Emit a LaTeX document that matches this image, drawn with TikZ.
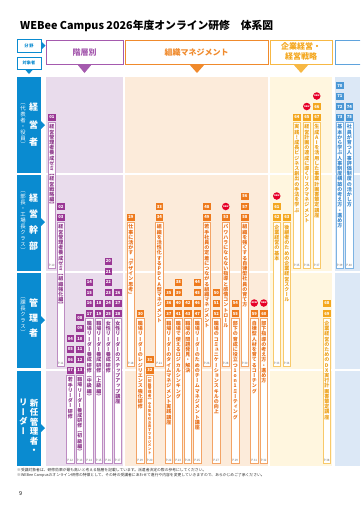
\documentclass[tikz,border=0pt]{standalone}
\usepackage{fontspec}
\setmainfont{Noto Sans CJK JP}
\newfontfamily\tatefont[RawFeature=+vert]{Noto Sans CJK JP}
\usetikzlibrary{positioning}

\definecolor{tabblue}{HTML}{0A8BD0}
\definecolor{bluebg}{HTML}{DCE8F6}
\definecolor{blueline}{HTML}{5FA3DD}
\definecolor{bluebar}{HTML}{7DB3E3}
\definecolor{bluebadge}{HTML}{4A97D5}
\definecolor{bluetext}{HTML}{3C89CD}
\definecolor{purpleline}{HTML}{A55AAE}
\definecolor{purplebg}{HTML}{E9DCEC}
\definecolor{purplebadge}{HTML}{9A3795}
\definecolor{purplebar}{HTML}{BD8CC2}
\definecolor{purpletext}{HTML}{8E3A8C}
\definecolor{orangeline}{HTML}{F08A2C}
\definecolor{orangebg}{HTML}{FCEBDA}
\definecolor{orangebadge}{HTML}{EE7A1C}
\definecolor{orangebar}{HTML}{F3A466}
\definecolor{orangetext}{HTML}{E8701A}
\definecolor{goldline}{HTML}{F7B844}
\definecolor{goldbg}{HTML}{FFF6DF}
\definecolor{goldbadge}{HTML}{F4A71E}
\definecolor{goldbar}{HTML}{F8C96A}
\definecolor{goldtext}{HTML}{EDA21C}
\definecolor{newred}{HTML}{E60028}

% vertical (tategaki) stack of characters
\makeatletter
\newcommand\tate[2][1.04em]{\vbox{\baselineskip=#1\relax\lineskiplimit=-\maxdimen\lineskip=0pt
  \@tfor\tate@c:=#2\do{\hbox to 1em{\hss\tate@c\hss}}}}
\makeatother

\tikzset{
  badge/.style={anchor=north west, minimum width=7.5pt, minimum height=7pt, inner sep=0pt,
    text=white, font=\fontsize{4.2}{4.2}\selectfont\bfseries},
  newdot/.style={circle, fill=newred, minimum size=7.5pt, inner sep=0pt, text=white,
    font=\fontsize{2.3}{2.3}\selectfont\bfseries},
  pagetag/.style={anchor=south, inner sep=0.3pt, text=black!55, font=\fontsize{3}{3}\selectfont},
  tabtext/.style={text=tabblue, inner sep=0pt, font=\fontsize{4.2}{4.2}\selectfont\bfseries},
  headtext/.style={inner sep=0pt, align=center, font=\fontsize{8}{9.5}\selectfont\bfseries},
  rowbig/.style={text=white, inner sep=0pt, font=\tatefont\fontsize{9}{9}\selectfont\bfseries},
  rowsmall/.style={text=white, inner sep=0pt, font=\tatefont\fontsize{5.4}{5.4}\selectfont},
  note/.style={inner sep=0pt, text=black!80, font=\fontsize{3.8}{4}\selectfont},
}

% x, first y, colour family, numbers
\newcommand\badges[4]{\foreach \n [count=\i from 0] in {#4}
  {\node[badge, fill=#3badge] (b\n) at (#1,#2+\i*10.5) {\n};}}
% name, x, y
\newcommand\newmark[3]{\node[newdot] (#1) at (#2+3.75,#3+3.5) {NEW};}
% [size] name, x, top, bottom, colour family, title, page
\newcommand\course[8][5]{
  \draw[#6bar, fill=white, line width=0.6pt] (#3,#4) rectangle (#3+7.5,#5);
  \node[anchor=north, inner sep=0pt, text=#6text, font=\tatefont\fontsize{#1}{#1}\selectfont\bfseries]
    (#2) at (#3+3.75,#4+2.5) {\tate[\dimexpr#1pt+0.2pt\relax]{#7}};
  \node[pagetag] (#2p) at (#3+3.75,#5-1.2) {#8};
}

\begin{document}
\begin{tikzpicture}[x=1pt, y=-1pt]
  \useasboundingbox (0,0) rectangle (360,509);
  \clip (0,0) rectangle (360,509);

  % title
  \node[anchor=base west, inner sep=0pt, font=\fontsize{10.8}{10.8}\selectfont\bfseries] (title) at (20,29.5)
    {WEBee Campus 2026年度オンライン研修　体系図};

  % field and target tabs
  \draw[tabblue, fill=white, line width=0.6pt] (17,39) rectangle (41,52);
  \node[tabtext] (fieldtab) at (29,45.5) {分 野};
  \fill[tabblue] (42,42) -- (45.5,45.5) -- (42,49) -- cycle;
  \draw[tabblue, fill=white, line width=0.6pt] (17,57.5) rectangle (41,69);
  \node[tabtext] (targettab) at (29,63.3) {対象者};
  \fill[tabblue] (25.5,70) -- (32.5,70) -- (29,74) -- cycle;

  % category headers
  \draw[purpleline, fill=white, line width=0.8pt] (46,40) rectangle (123,64);
  \node[headtext, text=purpleline] (hier) at (84.5,52.5) {階層別};
  \fill[purpleline] (77,64) -- (92,64) -- (84.5,73) -- cycle;
  \draw[orangeline, fill=white, line width=0.8pt] (125,40) rectangle (268,64);
  \node[headtext, text=orangeline] (orgm) at (196.5,52.5) {組織マネジメント};
  \fill[orangeline] (189,64) -- (205,64) -- (197,73) -- cycle;
  \draw[goldline, fill=white, line width=0.8pt] (270,40) rectangle (332,64);
  \node[headtext, text=goldbadge] (strat) at (301,51.5) {企業経営・\\経営戦略};
  \fill[goldline] (293,64) -- (309,64) -- (301,73) -- cycle;
  \draw[blueline, fill=white, line width=0.8pt] (335,40) rectangle (380,64);

  % column backgrounds and row gaps
  \fill[purplebg] (46,77) rectangle (123,466);
  \fill[orangebg] (125,77) rectangle (268,466);
  \fill[goldbg] (270,77) rectangle (332,466);
  \fill[bluebg] (335,77) rectangle (360,466);
  \foreach \y in {174,272,369.5}
    \draw[white, line width=2pt] (46,\y) -- (360,\y);

  % target rows
  \fill[tabblue] (17,77) rectangle (41,173);
  \fill[tabblue] (17,175) rectangle (41,271);
  \fill[tabblue] (17,273) rectangle (41,368);
  \fill[tabblue] (17,371) rectangle (41,466);
  \foreach \y in {125,222,320,428}
    \fill[tabblue] (41,\y-4) -- (45,\y) -- (41,\y+4) -- cycle;
  \node[rowbig] (lab1) at (33.5,125) {\tate[17.5pt]{経営者}};
  \node[rowsmall] (sub1) at (23,125) {\tate[6pt]{（代表者・役員）}};
  \node[rowbig] (lab2) at (33.5,222) {\tate[16pt]{経営幹部}};
  \node[rowsmall] (sub2) at (23,222) {\tate[6pt]{（部長・工場長クラス）}};
  \node[rowbig] (lab3) at (33.5,318) {\tate[15pt]{管理者}};
  \node[rowsmall] (sub3) at (23,316) {\tate[6pt]{（課長クラス）}};
  \node[rowbig, anchor=north, font=\tatefont\fontsize{8.5}{8.5}\selectfont\bfseries] (lab4) at (34,399) {\tate[9.5pt]{新任管理者・}};
  \node[rowbig, anchor=north, font=\tatefont\fontsize{8.5}{8.5}\selectfont\bfseries] (lab4b) at (23.5,399) {\tate[9.5pt]{リーダー}};

  % hierarchy courses
  \badges{48}{113.5}{purple}{01}
  \course{c01}{48}{122}{268}{purple}{経営管理者養成ゼミ【経営戦略編】}{P.10}
  \badges{57}{203}{purple}{02,03}
  \course{c02}{57}{222}{366}{purple}{経営管理者養成ゼミ【組織強化編】}{P.11}
  \badges{66.5}{335}{purple}{04,05,06,07}
  \course{c04}{66.5}{375}{463}{purple}{若手リーダー研修}{P.12}
  \badges{76}{314}{purple}{08,09,10,11,12,13}
  \course[4.9]{c08}{76}{375}{463}{purple}{職場リーダー養成研修（初級編）}{P.13}
  \badges{85.5}{278.5}{purple}{14,15,16,17}
  \course{c14}{85.5}{318.5}{463}{purple}{職場リーダー養成研修（中級編）}{P.14}
  \badges{95}{299.5}{purple}{18,19}
  \course{c18}{95}{318.5}{463}{purple}{職場リーダー養成研修（上級編）}{P.15}
  \badges{104.5}{257.5}{purple}{20,21,22,23,24,25}
  \course{c20}{104.5}{318.5}{463}{purple}{女性リーダー養成研修}{P.16}
  \badges{114}{289}{purple}{26,27,28}
  \course{c26}{114}{318.5}{463}{purple}{女性リーダーのステップアップ講座}{P.17}

  % organisation management courses
  \badges{127}{213.5}{orange}{29}
  \course{c29}{127}{222}{366}{orange}{仕事に活かす「デザイン思考」}{P.18}
  \badges{136.5}{310}{orange}{30}
  \course{c30}{136.5}{318.5}{463}{orange}{職場リーダーのレジリエンス強化研修}{P.19}
  \badges{146}{356}{orange}{31,32}
  \course[3.6]{c31}{146}{375}{463}{orange}{【初級管理者】やる気を引き出すマネジメント}{P.20}
  \badges{155.5}{203}{orange}{33,34}
  \course{c33}{155.5}{222}{366}{orange}{組織を活性化するPDCA型マネジメント}{P.21}
  \badges{165}{289}{orange}{35,36,37}
  \course{c35}{165}{318.5}{463}{orange}{職場リーダーのタイムマネジメント実践講座}{P.22}
  \badges{174.5}{278.5}{orange}{38,39,40,41}
  \course{c38}{174.5}{318.5}{463}{orange}{職場で使えるロジカルシンキング}{P.23}
  \badges{184}{299.5}{orange}{42,43}
  \course{c42}{184}{318.5}{463}{orange}{職場の問題発見・解決}{P.24}
  \badges{193.5}{278.5}{orange}{44,45,46,47}
  \course{c44}{193.5}{318.5}{463}{orange}{職場リーダーのためのチームマネジメント講座}{P.25}
  \badges{203}{203}{orange}{48,49}
  \course{c48}{203}{222}{366}{orange}{若手社員の定着につながる組織マネジメント}{P.26}
  \badges{212.5}{289}{orange}{50,51,52}
  \course{c50}{212.5}{318.5}{463}{orange}{職場のコミュニケーションスキルの向上}{P.27}
  \newmark{new53}{222}{203}
  \badges{222}{213.5}{orange}{53}
  \course{c53}{222}{222}{366}{orange}{パワハラにならない指導と感情コントロール}{P.28}
  \badges{231.5}{299.5}{orange}{54,55}
  \course{c54}{231.5}{318.5}{463}{orange}{部下の育成に役立つ1on1ミーティング}{P.29}
  \badges{241}{192.5}{orange}{56,57,58}
  \course{c56}{241}{222}{366}{orange}{組織を強くする自律型社員の育て方}{P.30}
  \newmark{new59}{250.5}{299.5}
  \badges{250.5}{310}{orange}{59}
  \course{c59}{250.5}{318.5}{463}{orange}{自律型人材を育てるコーチング}{P.31}
  \newmark{new60}{260}{299.5}
  \badges{260}{310}{orange}{60}
  \course{c60}{260}{318.5}{463}{orange}{部下指導の考え方・進め方}{P.32}

  % management and strategy courses
  \newmark{new61}{273}{192.5}
  \badges{273}{203}{gold}{61,62}
  \course{c61}{273}{222}{366}{gold}{企業経営の基本}{P.33}
  \badges{283}{213.5}{gold}{63}
  \course{c63}{283}{222}{366}{gold}{後継者のための企業経営スクール}{P.34}
  \badges{293}{113.5}{gold}{64}
  \course{c64}{293}{122}{268}{gold}{実践！成長ビジネス創出の手法を学ぶ}{P.35}
  \newmark{new65}{303}{103}
  \badges{303}{113.5}{gold}{65}
  \course{c65}{303}{122}{268}{gold}{経営計画の達成に導くリスクマネジメント}{P.36}
  \newmark{new66}{313}{92.5}
  \badges{313}{103}{gold}{66,67}
  \course{c66}{313}{122}{268}{gold}{生成AIを活用した事業計画書策定講座}{P.37}
  \badges{323}{299.5}{gold}{68,69}
  \course{c68}{323}{318.5}{463}{gold}{企業経営のためのDX実行計画書策定講座}{P.38}

  % personnel courses
  \badges{336}{82}{blue}{70,71,72,73}
  \course{c70}{336}{122}{268}{blue}{基本から学ぶ人事制度構築の考え方・進め方}{P.39}
  \badges{345.5}{103}{blue}{74,75}
  \course{c74}{345.5}{122}{268}{blue}{社員が育つ人事評価制度の活かし方}{P.40}

  % notes
  \node[note, anchor=north west] (note1) at (17,468)
    {※受講対象者は、研修効果が最も高いと考える階層を記載しています。派遣者決定の際の参考にしてください。};
  \node[note, below=1.6pt of note1.south west, anchor=north west] (note2)
    {※WEBee Campusのオンライン研修の特徴として、その時の受講者にあわせて進行や内容を変更していきますので、あらかじめご了承ください。};
  \node[anchor=base west, inner sep=0pt, font=\fontsize{5.5}{5.5}\selectfont] (pageno) at (19,495) {9};
\end{tikzpicture}
\end{document}
